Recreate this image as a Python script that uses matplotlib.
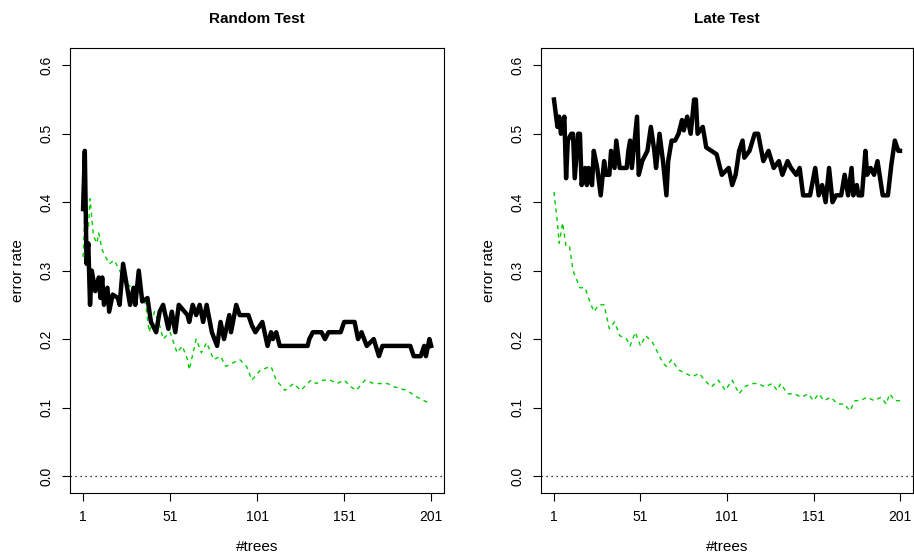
import matplotlib
matplotlib.use("Agg")
import matplotlib.pyplot as plt

plt.rcParams['font.family'] = ['Liberation Sans', 'DejaVu Sans']

xticks = [1, 51, 101, 151, 201]
yticks = [0.0, 0.1, 0.2, 0.3, 0.4, 0.5, 0.6]

rand_black_x = [1,2,3,4,5,6,8,10,11,12,13,15,16,18,21,22,24,28,30,31,33,35,38,40,43,45,47,50,52,54,56,61,62,64,66,68,70,72,75,78,80,82,85,86,89,91,96,98,100,104,107,109,110,112,114,130,131,133,138,140,142,149,151,157,159,161,164,168,171,173,189,191,195,197,198,200,201]
rand_black_y = [0.39,0.475,0.31,0.34,0.25,0.30,0.27,0.29,0.26,0.29,0.25,0.275,0.24,0.265,0.26,0.25,0.31,0.25,0.275,0.25,0.30,0.255,0.26,0.225,0.21,0.24,0.25,0.215,0.24,0.21,0.25,0.235,0.225,0.25,0.235,0.25,0.225,0.25,0.21,0.19,0.225,0.20,0.235,0.21,0.25,0.235,0.235,0.22,0.21,0.225,0.19,0.21,0.20,0.21,0.19,0.19,0.20,0.21,0.21,0.20,0.21,0.21,0.225,0.225,0.20,0.21,0.19,0.20,0.175,0.19,0.19,0.175,0.175,0.19,0.175,0.20,0.19]
rand_green_x = [1,2,4,5,7,9,10,12,14,16,19,22,26,30,34,37,39,42,45,47,51,55,58,61,62,66,69,72,76,80,83,87,91,95,98,103,109,112,117,122,126,132,135,139,143,147,151,155,158,163,168,176,180,187,193,201]
rand_green_y = [0.32,0.38,0.36,0.405,0.35,0.34,0.355,0.33,0.32,0.31,0.315,0.30,0.28,0.275,0.27,0.25,0.21,0.24,0.22,0.20,0.21,0.18,0.19,0.17,0.155,0.20,0.18,0.195,0.17,0.175,0.16,0.165,0.17,0.16,0.14,0.155,0.16,0.14,0.125,0.135,0.125,0.14,0.135,0.14,0.14,0.135,0.14,0.13,0.125,0.14,0.135,0.135,0.13,0.125,0.115,0.105]

late_black_x = [1,2,3,4,5,7,8,9,11,12,13,15,16,17,19,20,21,23,24,26,28,30,31,33,34,36,37,39,43,44,45,46,49,50,52,55,57,59,60,62,64,66,67,69,71,73,75,76,78,80,82,83,84,87,89,92,95,98,102,104,106,108,110,111,114,117,119,122,125,128,131,133,136,138,141,143,145,149,152,154,156,158,160,162,164,167,169,171,173,174,176,177,179,181,182,184,186,188,191,194,196,198,200,201]
late_black_y = [0.55,0.53,0.51,0.525,0.50,0.525,0.435,0.49,0.50,0.50,0.435,0.50,0.50,0.425,0.45,0.425,0.45,0.425,0.475,0.45,0.41,0.46,0.44,0.44,0.475,0.45,0.49,0.45,0.45,0.475,0.49,0.45,0.525,0.44,0.46,0.475,0.51,0.475,0.45,0.50,0.46,0.41,0.46,0.49,0.49,0.50,0.52,0.505,0.525,0.50,0.55,0.55,0.50,0.51,0.48,0.475,0.47,0.44,0.45,0.425,0.44,0.475,0.49,0.465,0.475,0.50,0.50,0.46,0.475,0.45,0.46,0.44,0.46,0.45,0.44,0.45,0.41,0.41,0.45,0.41,0.425,0.40,0.45,0.40,0.41,0.41,0.44,0.41,0.45,0.41,0.425,0.41,0.41,0.475,0.44,0.45,0.44,0.46,0.41,0.41,0.455,0.49,0.475,0.475]
late_green_x = [1,3,4,6,8,10,12,16,19,21,24,27,30,33,36,39,43,45,48,51,54,58,61,64,66,69,73,77,81,85,88,92,96,100,104,108,111,115,119,123,127,130,132,136,140,144,148,151,154,157,161,165,169,172,175,178,182,186,190,193,195,198,201]
late_green_y = [0.415,0.37,0.34,0.37,0.335,0.335,0.30,0.275,0.275,0.26,0.24,0.25,0.25,0.215,0.225,0.205,0.20,0.19,0.21,0.19,0.205,0.195,0.18,0.165,0.16,0.17,0.155,0.15,0.145,0.15,0.14,0.13,0.14,0.125,0.14,0.12,0.13,0.135,0.135,0.13,0.135,0.125,0.135,0.12,0.12,0.115,0.12,0.11,0.12,0.11,0.115,0.105,0.105,0.095,0.11,0.11,0.115,0.11,0.115,0.105,0.12,0.11,0.11]

fig = plt.figure(figsize=(9.14, 5.54), dpi=100)
panels = [
    ([0.0766, 0.110, 0.4094, 0.803], "Random Test", rand_black_x, rand_black_y, rand_green_x, rand_green_y),
    ([0.5919, 0.110, 0.407, 0.803], "Late Test", late_black_x, late_black_y, late_green_x, late_green_y),
]
for rect, title, bx, by, gx, gy in panels:
    ax = fig.add_axes(rect)
    ax.plot(gx, gy, color='#00cd00', lw=1.0, ls=(0, (3, 3)))
    ax.plot(bx, by, color='black', lw=3.2, solid_joinstyle='round')
    ax.axhline(0.0, color='black', lw=0.9, ls=(0, (1, 3)))
    ax.set_xlim(-6.5, 208.5)
    ax.set_ylim(-0.025, 0.625)
    ax.set_xticks(xticks)
    ax.set_xticklabels([str(t) for t in xticks])
    ax.set_yticks(yticks)
    ax.set_yticklabels([f"{t:.1f}" for t in yticks], rotation=90, va='center')
    ax.tick_params(direction='out', length=6, labelsize=10, pad=6)
    ax.set_xlabel("#trees", fontsize=11, labelpad=12)
    ax.set_ylabel("error rate", fontsize=11, labelpad=10)
    ax.set_title(title, fontsize=11, fontweight='bold', pad=18)
fig.savefig("out.png", dpi=100)
